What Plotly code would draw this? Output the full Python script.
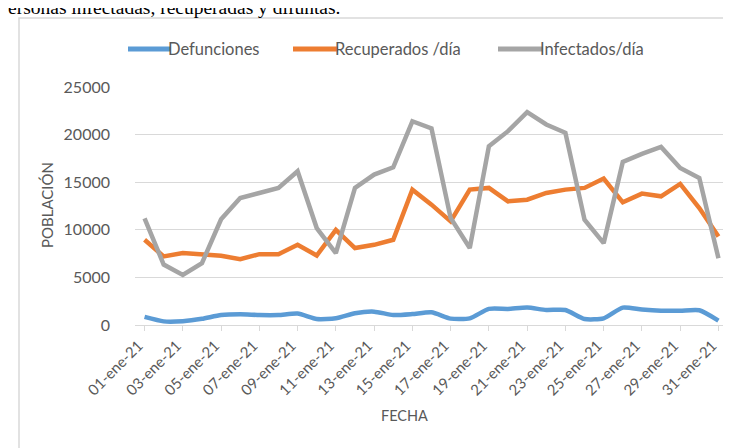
import plotly.graph_objects as go

fechas = ["01-ene-21", "02-ene-21", "03-ene-21", "04-ene-21", "05-ene-21", "06-ene-21",
          "07-ene-21", "08-ene-21", "09-ene-21", "10-ene-21", "11-ene-21", "12-ene-21",
          "13-ene-21", "14-ene-21", "15-ene-21", "16-ene-21", "17-ene-21", "18-ene-21",
          "19-ene-21", "20-ene-21", "21-ene-21", "22-ene-21", "23-ene-21", "24-ene-21",
          "25-ene-21", "26-ene-21", "27-ene-21", "28-ene-21", "29-ene-21", "30-ene-21",
          "31-ene-21"]

defunciones = [850, 380, 400, 650, 1050, 1130, 1050, 1050, 1200, 630, 700, 1230,
               1400, 1050, 1150, 1330, 670, 700, 1690, 1690, 1830, 1580, 1580, 630,
               700, 1830, 1620, 1500, 1500, 1550, 460]

recuperados = [8950, 7200, 7550, 7440, 7270, 6920, 7440, 7440, 8430, 7300, 10000, 8080,
               8420, 8950, 14220, 12640, 10890, 14220, 14400, 12990, 13160, 13870, 14220,
               14400, 15380, 12890, 13800, 13520, 14820, 12290, 9300]

infectados = [11200, 6350, 5250, 6500, 11100, 13340, 13870, 14400, 16150, 10180, 7550,
              14400, 15800, 16570, 21400, 20640, 11240, 8080, 18780, 20360, 22360, 21060,
              20190, 11060, 8600, 17130, 17970, 18710, 16500, 15450, 7020]

series_names = ["Defunciones", "Recuperados /día", "Infectados/día"]
series_colors = ["#5B9BD5", "#ED7D31", "#A5A5A5"]
tick_labels = fechas[::2]
y_ticks = [0, 5000, 10000, 15000, 20000, 25000]

FONT = "Lato"
GRAY_TXT = "#595959"

fig = go.Figure()
for name, vals, col in zip(series_names, [defunciones, recuperados, infectados], series_colors):
    line = dict(color=col, width=4.5)
    if name == "Defunciones":
        line.update(shape="spline", smoothing=0.6)
    fig.add_trace(go.Scatter(x=fechas, y=vals, name=name, mode="lines", line=line))

L, R, T, B = 127, 11, 79, 131
W, H = 731, 448
pw, ph = W - L - R, H - T - B


def px_x(p):
    return (p - L) / pw


def px_y(p):
    return (H - B - p) / ph


# legend drawn as swatch lines + labels
legend_swatch = [(120, 163), (285, 330), (490, 535)]
legend_y = 41
shapes = [
    dict(type="rect", xref="paper", yref="paper", x0=px_x(11), x1=px_x(745),
         y0=px_y(445), y1=px_y(10), line=dict(color="#D9D9D9", width=1.5),
         fillcolor="rgba(0,0,0,0)", layer="below"),
]
annotations = []
for (x0, x1), name, col in zip(legend_swatch, series_names, series_colors):
    shapes.append(dict(type="line", xref="paper", yref="paper", x0=px_x(x0), x1=px_x(x1),
                       y0=px_y(legend_y), y1=px_y(legend_y),
                       line=dict(color=col, width=5)))
    annotations.append(dict(text=name, xref="paper", yref="paper", x=px_x(x1 + 1),
                            y=px_y(legend_y), showarrow=False, xanchor="left",
                            yanchor="middle", xshift=-6,
                            font=dict(family=FONT, size=16.5, color=GRAY_TXT)))

annotations += [
    dict(text="POBLACIÓN", xref="paper", yref="paper", x=px_x(39), y=px_y(197),
         textangle=-90, showarrow=False, xanchor="center", yanchor="middle",
         font=dict(family=FONT, size=15, color=GRAY_TXT)),
    dict(text="FECHA", xref="paper", yref="paper", x=px_x(396), y=px_y(407),
         showarrow=False, xanchor="center", yanchor="middle",
         font=dict(family=FONT, size=14.5, color=GRAY_TXT)),
    dict(text="ersonas infectadas, recuperadas y difuntas.", xref="paper", yref="paper",
         x=px_x(-2), y=px_y(12), showarrow=False, xanchor="left", yanchor="bottom",
         font=dict(family="Liberation Serif", size=19.5, color="black")),
]

fig.update_layout(
    width=W, height=H,
    margin=dict(l=L, r=R, t=T, b=B, autoexpand=False),
    paper_bgcolor="white", plot_bgcolor="white",
    font=dict(family=FONT, color=GRAY_TXT, size=16),
    showlegend=False,
    xaxis=dict(type="category", range=[-0.5, 30.5], tickmode="array",
               tickvals=tick_labels, ticktext=tick_labels, tickangle=-45,
               showgrid=False, showline=True, linecolor="#D9D9D9", linewidth=1,
               ticks="outside", ticklen=5, tickcolor="#D9D9D9", ticklabelshift=-6,
               tickfont=dict(family=FONT, size=15, color=GRAY_TXT)),
    yaxis=dict(range=[0, 25000], tickvals=y_ticks, tickformat="d", showgrid=True,
               gridcolor="#D9D9D9", gridwidth=1, zeroline=False, showline=False,
               ticks="", ticklabelstandoff=24,
               tickfont=dict(family=FONT, size=16, color=GRAY_TXT)),
    annotations=annotations,
    shapes=shapes,
)

fig.write_html("out.html")
